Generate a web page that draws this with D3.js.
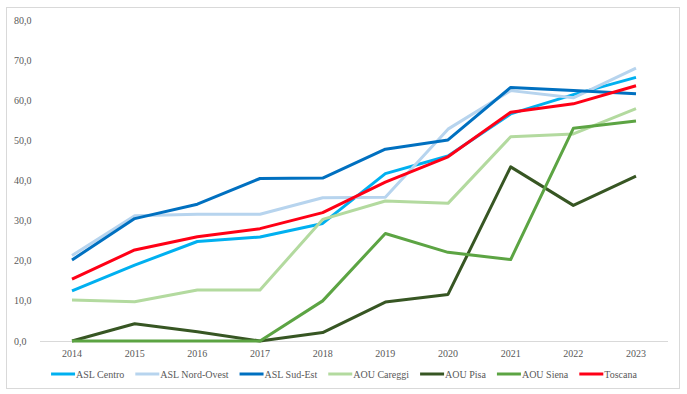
<!DOCTYPE html>
<head>
  <meta charset="utf-8">
  <script src="https://cdn.jsdelivr.net/npm/d3@7"></script>
  <style>
    body { margin:0; background:#fff; }
    svg { display:block; }
    svg text { font-family: "Liberation Serif", "Times New Roman", Times, serif; font-size: 10px; fill: #595959; }
  </style>
</head>

<body>
  <script>
    // data
    var years = [2014, 2015, 2016, 2017, 2018, 2019, 2020, 2021, 2022, 2023];
    var names = ["ASL Centro", "ASL Nord-Ovest", "ASL Sud-Est", "AOU Careggi", "AOU Pisa", "AOU Siena", "Toscana"];
    var aslCentro    = [12.5, 18.9, 24.8, 25.9, 29.3, 41.7, 46.1, 56.6, 61.4, 65.7];
    var aslNordOvest = [21.3, 31.2, 31.6, 31.6, 35.7, 35.8, 52.8, 62.4, 60.6, 68.0];
    var aslSudEst    = [20.2, 30.5, 34.1, 40.5, 40.6, 47.8, 50.1, 63.2, 62.4, 61.6];
    var aouCareggi   = [10.2, 9.8, 12.7, 12.7, 30.3, 34.9, 34.3, 50.9, 51.6, 57.9];
    var aouPisa      = [0.0, 4.3, 2.3, 0.0, 2.1, 9.7, 11.6, 43.4, 33.8, 41.1];
    var aouSiena     = [0.0, 0.0, 0.0, 0.0, 10.0, 26.8, 22.1, 20.3, 53.0, 54.8];
    var toscana      = [15.4, 22.7, 26.0, 28.0, 32.0, 39.6, 45.9, 57.0, 59.1, 63.6];
    var yTicks = [0, 10, 20, 30, 40, 50, 60, 70, 80];

    var seriesValues = [aslCentro, aslNordOvest, aslSudEst, aouCareggi, aouPisa, aouSiena, toscana];
    var colors = ["#00B0F0", "#B7D4EE", "#0070C0", "#B3DA9F", "#375623", "#5CA443", "#FF0016"];

    var width = 687, height = 394;
    var svg = d3.select("body").append("svg")
      .attr("width", width)
      .attr("height", height)

    // chart border
    svg.append("rect")
      .attr("x", 6.5).attr("y", 7.5)
      .attr("width", 673).attr("height", 381)
      .attr("fill", "white")
      .attr("stroke", "#D9D9D9")

    var x = d3.scalePoint()
      .domain(years)
      .range([72, 636])

    var y = d3.scaleLinear()
      .domain([0, 80])
      .range([341, 20])

    // y labels
    svg.selectAll(".ylab")
      .data(yTicks)
      .enter().append("text")
      .attr("x", 14)
      .attr("y", function(d) { return y(d); })
      .attr("dy", "0.35em")
      .text(function(d) { return d3.format(".1f")(d).replace(".", ","); })

    // x axis line
    svg.append("line")
      .attr("x1", 40).attr("x2", 668)
      .attr("y1", y(0) + 0.5).attr("y2", y(0) + 0.5)
      .attr("stroke", "#D9D9D9")

    svg.selectAll(".xlab")
      .data(years)
      .enter().append("text")
      .attr("x", function(d) { return x(d); })
      .attr("y", 357)
      .attr("text-anchor", "middle")
      .text(function(d) { return d; })

    var line = d3.line()
      .x(function(d, i) { return x(years[i]); })
      .y(function(d) { return y(d); })

    svg.selectAll(".series")
      .data(seriesValues)
      .enter().append("path")
      .attr("d", line)
      .attr("fill", "none")
      .attr("stroke", function(d, i) { return colors[i]; })
      .attr("stroke-width", 3)
      .attr("stroke-linejoin", "round")

    // legend
    var legend = svg.append("g")
    var lx = 0;
    names.forEach(function(n, i) {
      var g = legend.append("g").attr("transform", "translate(" + lx + ",0)")
      g.append("line")
        .attr("x1", 0).attr("x2", 24)
        .attr("y1", 0).attr("y2", 0)
        .attr("stroke", colors[i])
        .attr("stroke-width", 3)
      var t = g.append("text")
        .attr("x", 25)
        .attr("dy", "0.35em")
        .text(n)
      lx += 25 + t.node().getComputedTextLength() + 11;
    })
    lx -= 11;
    legend.attr("transform", "translate(" + (344 - lx / 2) + ",374)")
  </script>
</body>
